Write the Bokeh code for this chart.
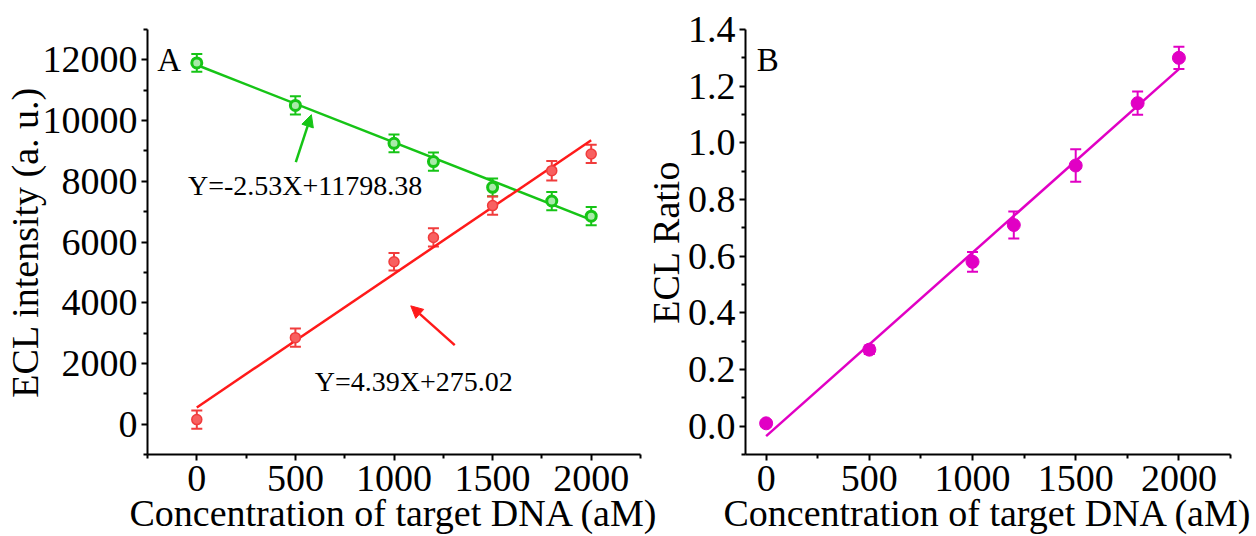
from bokeh.plotting import figure
from bokeh.models import (ColumnDataSource, Whisker, TeeHead, Arrow, NormalHead, Label,
                          FixedTicker, PrintfTickFormatter, Range1d)
from bokeh.layouts import row
from bokeh.embed import file_html
from bokeh.resources import INLINE

# ---------------- data ----------------
conc = [0, 500, 1000, 1200, 1500, 1800, 2000]
green_int = [11900, 10500, 9250, 8650, 7800, 7350, 6850]
green_err = [290, 300, 290, 300, 290, 300, 300]
red_int = [150, 2850, 5350, 6150, 7200, 8350, 8900]
red_err = [300, 300, 290, 300, 300, 320, 300]
ratio = [0.01, 0.27, 0.58, 0.71, 0.92, 1.14, 1.30]
ratio_err = [0.01, 0.015, 0.035, 0.048, 0.057, 0.041, 0.039]

fit_x = [0, 2000]
green_fit = [11830, 6730]
red_fit = [550, 9350]
ratio_fit = [-0.035, 1.26]

x_ticks = [0, 500, 1000, 1500, 2000]
x_minor = [-250, 250, 750, 1250, 1750, 2250]
a_ticks = [0, 2000, 4000, 6000, 8000, 10000, 12000]
a_minor = [-1000, 1000, 3000, 5000, 7000, 9000, 11000, 13000]
b_ticks = [0.0, 0.2, 0.4, 0.6, 0.8, 1.0, 1.2, 1.4]
b_minor = [-0.1, 0.1, 0.3, 0.5, 0.7, 0.9, 1.1, 1.3]

eq_green = "Y=-2.53X+11798.38"
eq_red = "Y=4.39X+275.02"
x_title = "Concentration of target DNA (aM)"
ya_title = "ECL intensity (a. u.)"
yb_title = "ECL Ratio"

FONT = "Liberation Serif"
GREEN = "#16c416"
RED = "#ff1a1a"
MAG = "#e100c4"


def style(p, yticks, yminor, ylab_standoff):
    p.xaxis.ticker = FixedTicker(ticks=x_ticks, minor_ticks=x_minor)
    p.yaxis.ticker = FixedTicker(ticks=yticks, minor_ticks=yminor)
    p.xgrid.visible = False
    p.ygrid.visible = False
    p.outline_line_color = None
    for ax in (p.xaxis[0], p.yaxis[0]):
        ax.axis_line_width = 2
        ax.axis_line_color = "black"
        ax.major_tick_line_width = 2
        ax.minor_tick_line_width = 2
        ax.major_tick_in = 0
        ax.major_tick_out = 6
        ax.minor_tick_in = 0
        ax.minor_tick_out = 4
        ax.major_label_text_font = FONT
        ax.major_label_text_font_size = "38px"
        ax.major_label_text_color = "black"
        ax.axis_label_text_font = FONT
        ax.axis_label_text_font_size = "38px"
        ax.axis_label_text_font_style = "normal"
        ax.axis_label_text_color = "black"
    p.xaxis.major_label_standoff = 5
    p.xaxis.axis_label_standoff = -2
    p.yaxis.major_label_standoff = 4
    p.yaxis.axis_label_standoff = ylab_standoff


def errorbars(p, ys, errs, color, size):
    src = ColumnDataSource(dict(x=conc,
                                lo=[y - e for y, e in zip(ys, errs)],
                                hi=[y + e for y, e in zip(ys, errs)]))
    w = Whisker(source=src, base="x", lower="lo", upper="hi", dimension="height",
                line_color=color, line_width=2,
                upper_head=TeeHead(size=size, line_color=color, line_width=2),
                lower_head=TeeHead(size=size, line_color=color, line_width=2))
    p.add_layout(w)


# ---------------- panel A ----------------
pa = figure(width=665, height=536, x_range=Range1d(-250, 2250), y_range=Range1d(-1000, 13000),
            output_backend="svg", toolbar_location=None,
            min_border_left=146, min_border_right=25, min_border_top=28, min_border_bottom=79,
            x_axis_label=x_title, y_axis_label=ya_title)
style(pa, a_ticks, a_minor, -6)

pa.line(fit_x, green_fit, line_color=GREEN, line_width=2.5)
pa.line(fit_x, red_fit, line_color=RED, line_width=2.5)
errorbars(pa, green_int, green_err, GREEN, 11)
errorbars(pa, red_int, red_err, "#f03c3c", 11)
pa.scatter(conc, green_int, size=10, fill_color="#a8eaa8", line_color=GREEN, line_width=3)
pa.scatter(conc, red_int, size=10, fill_color="#f86060", line_color="#f03c3c", line_width=1.5)

pa.add_layout(Label(x=-200, y=12000, text="A", text_font=FONT, text_font_size="33px",
                    text_baseline="alphabetic", text_color="black"))
pa.add_layout(Label(x=-45, y=7860, text=eq_green, text_font=FONT, text_font_size="28px",
                    text_baseline="middle", text_color="black"))
pa.add_layout(Label(x=598, y=1390, text=eq_red, text_font=FONT, text_font_size="28px",
                    text_baseline="middle", text_color="black"))
pa.add_layout(Arrow(x_start=502, y_start=8630, x_end=581, y_end=10195,
                    line_color=GREEN, line_width=2.5,
                    end=NormalHead(size=12, fill_color=GREEN, line_color=GREEN)))
pa.add_layout(Arrow(x_start=1308, y_start=2605, x_end=1085, y_end=3896,
                    line_color=RED, line_width=2.5,
                    end=NormalHead(size=12, fill_color=RED, line_color=RED)))

# ---------------- panel B ----------------
pb = figure(width=615, height=536, x_range=Range1d(-100, 2250), y_range=Range1d(-0.1, 1.4),
            output_backend="svg", toolbar_location=None,
            min_border_left=102, min_border_right=26, min_border_top=29, min_border_bottom=79,
            x_axis_label=x_title, y_axis_label=yb_title)
style(pb, b_ticks, b_minor, -2)
pb.yaxis.formatter = PrintfTickFormatter(format="%.1f")
pb.background_fill_alpha = 0
pb.border_fill_alpha = 0
pb.margin = (0, 0, 0, -24)

pb.line(fit_x, ratio_fit, line_color=MAG, line_width=2.5)
errorbars(pb, ratio, ratio_err, MAG, 11)
pb.scatter(conc, ratio, size=13, fill_color=MAG, line_color=MAG, line_width=1)
pb.add_layout(Label(x=-45, y=1.292, text="B", text_font=FONT, text_font_size="33px",
                    text_baseline="alphabetic", text_color="black"))

layout = row(pa, pb)
open("out.html", "w").write(file_html(layout, INLINE))
